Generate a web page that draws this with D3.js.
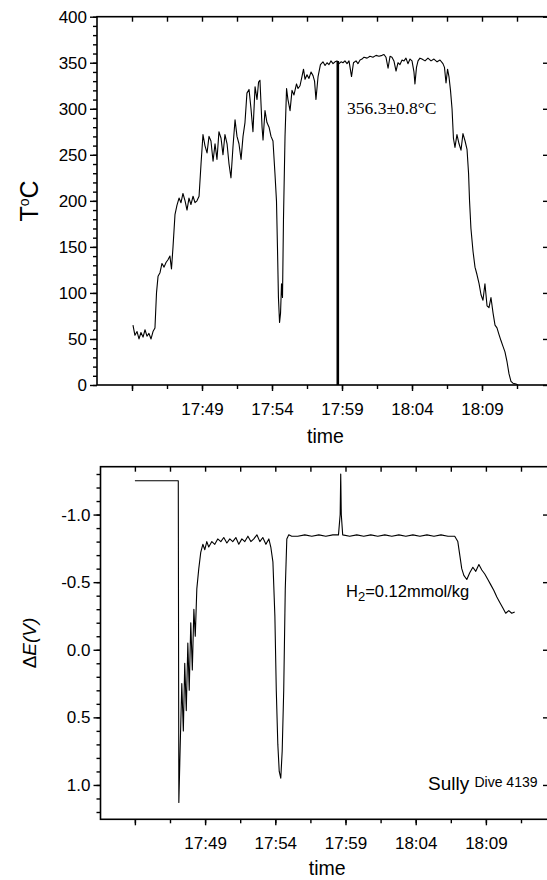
<!DOCTYPE html>
<html>
<head>
<meta charset="utf-8">
<script src="https://cdn.jsdelivr.net/npm/d3@7"></script>
<style>
  body { margin: 0; background: #fff; }
  svg { display: block; }
  text { font-family: "Liberation Sans", Arial, sans-serif; fill: #000; }
</style>
</head>
<body>
<div id="chart"></div>
<script>
// times are minutes after 17:40
const tempTime = [4.07, 4.21, 4.36, 4.5, 4.64, 4.79, 4.93, 5.07, 5.21, 5.36, 5.5, 5.64, 5.75, 5.86, 6.0, 6.14, 6.29, 6.43, 6.57, 6.71, 6.82, 6.93,
  7.07, 7.21, 7.36, 7.5, 7.64, 7.79, 7.93, 8.07, 8.21, 8.36, 8.5, 8.64, 8.79, 8.93, 9.07, 9.21, 9.36, 9.5, 9.64, 9.79, 9.93,
  10.07, 10.21, 10.36, 10.5, 10.64, 10.79, 10.93, 11.07, 11.21, 11.36, 11.5, 11.64, 11.79, 11.93, 12.07, 12.21, 12.36, 12.5,
  12.64, 12.79, 12.93, 13.04, 13.14, 13.29, 13.36, 13.5, 13.64, 13.79, 13.93, 14.07, 14.21, 14.32, 14.39, 14.46, 14.54, 14.61,
  14.68, 14.75, 14.82, 14.93, 15.04, 15.14, 15.29, 15.43, 15.57, 15.75, 15.86, 16.0, 16.14, 16.25, 16.36, 16.5, 16.64, 16.79,
  16.93, 17.04, 17.14, 17.29, 17.46, 17.64, 17.79, 17.93, 18.07, 18.21, 18.36, 18.5, 18.64, 18.79, 18.93, 19.07, 19.21, 19.36,
  19.5, 19.68, 19.82, 20.0, 20.14, 20.29, 20.43, 20.57, 20.79, 21.0, 21.21, 21.43, 21.64, 21.86, 22.0, 22.14, 22.29, 22.43,
  22.57, 22.71, 22.86, 23.0, 23.14, 23.29, 23.43, 23.57, 23.71, 23.86, 24.0, 24.14, 24.21, 24.32, 24.43, 24.57, 24.71, 24.93,
  25.14, 25.36, 25.57, 25.79, 26.0, 26.21, 26.32, 26.43, 26.54, 26.64, 26.75, 26.86, 26.96, 27.07, 27.21, 27.36, 27.5, 27.64,
  27.79, 27.93, 28.04, 28.11, 28.21, 28.36, 28.5, 28.64, 28.79, 28.93, 29.07, 29.21, 29.36, 29.5, 29.64, 29.79, 29.93, 30.07,
  30.21, 30.36, 30.5, 30.64, 30.79, 30.93, 31.07, 31.21, 31.43, 31.57];
const tempValue = [65, 54, 58, 50, 57, 52, 60, 53, 56, 50, 58, 62, 100, 118, 122, 132, 128, 133, 136, 140, 126, 150,
  185, 195, 203, 198, 208, 200, 190, 203, 196, 205, 198, 200, 205, 240, 272, 260, 252, 270, 265, 243, 262,
  245, 275, 268, 250, 272, 262, 240, 225, 258, 288, 270, 262, 245, 270, 285, 317, 321, 300,
  275, 324, 310, 329, 331, 280, 266, 298, 285, 280, 270, 265, 230, 200, 150, 95, 68, 78,
  110, 95, 180, 270, 322, 310, 298, 320, 315, 327, 322, 325, 335, 343, 332, 337, 333, 340,
  336, 330, 310, 335, 348, 351, 347, 350, 348, 352, 349, 351, 352, 349, 351, 350, 352, 349,
  352, 335, 350, 352, 349, 353, 354, 356, 355, 357, 356, 358, 357, 358, 359, 356, 344, 357,
  356, 352, 341, 350, 348, 353, 352, 355, 349, 354, 352, 340, 327, 345, 352, 355, 354, 352,
  355, 352, 354, 351, 353, 349, 345, 328, 343, 335, 320, 300, 268, 258, 272, 262, 255, 273,
  265, 256, 230, 200, 170, 145, 128, 120, 110, 98, 92, 110, 86, 84, 95, 78, 65, 62,
  55, 48, 42, 36, 25, 12, 4, 2, 1, 0];

const dETime = [4.0, 7.09, 7.13, 7.23, 7.34, 7.45, 7.55, 7.66, 7.77, 7.87, 7.98, 8.09, 8.2, 8.3, 8.41, 8.55, 8.69, 8.84, 8.98,
  9.12, 9.26, 9.48, 9.69, 9.9, 10.12, 10.33, 10.55, 10.76, 10.97, 11.19, 11.4, 11.62, 11.83, 12.05, 12.26, 12.47, 12.69,
  12.9, 13.11, 13.33, 13.54, 13.68, 13.83, 13.97, 14.07, 14.18, 14.28, 14.39, 14.49, 14.6, 14.71, 14.82, 14.96, 15.17,
  15.6, 16.1, 16.6, 17.1, 17.6, 18.1, 18.5, 18.62, 18.66, 18.7, 18.8, 19.3, 19.8, 20.3, 20.8, 21.3, 21.8, 22.3, 22.8,
  23.3, 23.8, 24.3, 24.8, 25.3, 25.8, 26.3, 26.78, 27.0, 27.14, 27.28, 27.43, 27.64, 27.85, 28.07, 28.28, 28.5, 28.71,
  28.92, 29.14, 29.35, 29.56, 29.78, 29.99, 30.2, 30.41, 30.63, 30.84, 31.05];
const dEValue = [-1.25, -1.25, 1.13, 0.7, 0.25, 0.6, 0.1, 0.45, -0.05, 0.3, -0.2, 0.15, -0.3, -0.1, -0.45, -0.6, -0.72, -0.78, -0.74,
  -0.8, -0.76, -0.8, -0.78, -0.82, -0.8, -0.83, -0.79, -0.82, -0.8, -0.83, -0.78, -0.82, -0.8, -0.84, -0.8, -0.82, -0.85,
  -0.8, -0.83, -0.78, -0.82, -0.76, -0.65, -0.25, 0.3, 0.7, 0.9, 0.95, 0.75, 0.3, -0.45, -0.82, -0.85, -0.84,
  -0.84, -0.85, -0.84, -0.85, -0.84, -0.85, -0.85, -1.0, -1.3, -1.0, -0.85, -0.84, -0.85, -0.84, -0.85, -0.84, -0.85, -0.84, -0.85,
  -0.84, -0.85, -0.84, -0.85, -0.84, -0.85, -0.84, -0.84, -0.8, -0.7, -0.6, -0.55, -0.52, -0.57, -0.61, -0.58, -0.63, -0.59,
  -0.56, -0.52, -0.48, -0.44, -0.39, -0.35, -0.31, -0.27, -0.29, -0.27, -0.28];

const timeTicks = [4, 6.5, 9, 11.5, 14, 16.5, 19, 21.5, 24, 26.5, 29, 31.5];
const timeMajor = [4, 9, 14, 19, 24, 29];
const timeLabels = ['', '17:49', '17:54', '17:59', '18:04', '18:09'];
const tempTicks = [0, 50, 100, 150, 200, 250, 300, 350, 400];
const dETicks = [-1.0, -0.5, 0.0, 0.5, 1.0];
const dELabels = ['-1.0', '-0.5', '0.0', '0.5', '1.0'];

const W = 547, H = 880;
const svg = d3.select('#chart').append('svg')
    .attr('width', W)
    .attr('height', H);

const t0 = new Date(2000, 0, 1, 17, 40);
const toDate = m => new Date(+t0 + m * 60000);

function drawPanel(opt) {
    const g = svg.append('g');
    const { left, right, top, bottom } = opt;

    const x = d3.scaleTime()
        .domain([toDate(opt.tMin), toDate(opt.tMax)])
        .range([left, right]);
    const y = d3.scaleLinear()
        .domain(opt.yDomain)
        .range([bottom, top]);

    const labelFor = d => {
        const i = timeMajor.findIndex(m => +toDate(m) === +d);
        return i >= 0 ? timeLabels[i] : '';
    };

    // bottom axis: minor then major ticks (outward)
    g.append('g')
        .attr('transform', `translate(0,${bottom})`)
        .call(d3.axisBottom(x).tickValues(timeTicks.map(toDate)).tickSize(4).tickFormat(''));
    g.append('g')
        .attr('class', 'xlab')
        .attr('transform', `translate(0,${bottom})`)
        .call(d3.axisBottom(x).tickValues(timeMajor.map(toDate)).tickSize(6).tickPadding(12).tickFormat(labelFor));

    // top axis: ticks inward
    g.append('g')
        .attr('transform', `translate(0,${top})`)
        .call(d3.axisBottom(x).tickValues(timeTicks.map(toDate)).tickSize(5).tickFormat(''));

    // left axis: minor + major ticks outward
    g.append('g')
        .attr('transform', `translate(${left},0)`)
        .call(d3.axisLeft(y).tickValues(opt.minorTicks).tickSize(4).tickFormat(''));
    g.append('g')
        .attr('class', 'ylab')
        .attr('transform', `translate(${left},0)`)
        .call(d3.axisLeft(y).tickValues(opt.majorTicks).tickSize(7).tickPadding(3)
            .tickFormat((d, i) => opt.majorLabels[i]));

    // right axis: ticks inward
    g.append('g')
        .attr('transform', `translate(${right},0)`)
        .call(d3.axisLeft(y).tickValues(opt.majorTicks).tickSize(5).tickFormat(''));

    g.selectAll('.domain').remove();
    g.selectAll('.tick line').attr('stroke', '#000').attr('stroke-width', 1.4);
    g.selectAll('.xlab text').style('font-size', '17px');
    g.selectAll('.ylab text').style('font-size', '17px');

    // frame
    g.append('rect')
        .attr('x', left).attr('y', top)
        .attr('width', right - left).attr('height', bottom - top)
        .attr('fill', 'none')
        .attr('stroke', '#000')
        .attr('stroke-width', 1.6);

    // data line
    const line = d3.line()
        .x((d, i) => x(toDate(opt.times[i])))
        .y(d => y(d));
    g.append('path')
        .datum(opt.values)
        .attr('d', line)
        .attr('fill', 'none')
        .attr('stroke', '#000')
        .attr('stroke-width', 1.1)
        .attr('stroke-linejoin', 'round');

    // x axis title
    g.append('text')
        .attr('x', (left + right) / 2 + 3)
        .attr('y', opt.timeY)
        .attr('text-anchor', 'middle')
        .style('font-size', '19.5px')
        .text('time');

    return { x, y, g };
}

// Upper panel: temperature
const upper = drawPanel({
    left: 97, right: 548, top: 16.7, bottom: 385,
    tMin: 1.5, tMax: 1.5 + 451 / 14,
    yDomain: [0, 400],
    minorTicks: d3.range(0, 401, 10),
    majorTicks: tempTicks,
    majorLabels: tempTicks.map(String),
    times: tempTime, values: tempValue,
    timeY: 443
});

// measurement marker
upper.g.append('line')
    .attr('x1', upper.x(toDate(18.7))).attr('x2', upper.x(toDate(18.7)))
    .attr('y1', upper.y(0)).attr('y2', upper.y(352))
    .attr('stroke', '#000')
    .attr('stroke-width', 2.6);

upper.g.append('text')
    .attr('x', 347)
    .attr('y', 114)
    .style('font-family', '"Liberation Serif", "Times New Roman", serif')
    .style('font-size', '17.5px')
    .text('356.3±0.8°C');

const tLabel = upper.g.append('text')
    .attr('transform', 'translate(38,201) rotate(-90)')
    .attr('text-anchor', 'middle')
    .style('font-size', '25px');
tLabel.append('tspan').text('T');
tLabel.append('tspan').attr('dy', -9).style('font-size', '14px').text('o');
tLabel.append('tspan').attr('dy', 9).text('C');

// Lower panel: electrode potential
const lower = drawPanel({
    left: 100.5, right: 548, top: 466.7, bottom: 819.3,
    tMin: 1.55, tMax: 1.55 + 447.5 / 14.04,
    yDomain: [1.254, -1.354],
    minorTicks: d3.range(-13, 13).map(d => d / 10),
    majorTicks: dETicks,
    majorLabels: dELabels,
    times: dETime, values: dEValue,
    timeY: 875
});

const eLabel = lower.g.append('text')
    .attr('transform', 'translate(36,643) rotate(-90)')
    .attr('text-anchor', 'middle')
    .style('font-size', '19px');
eLabel.append('tspan').text('Δ');
eLabel.append('tspan').style('font-style', 'italic').text('E(V)');

const h2 = lower.g.append('text')
    .attr('x', 346)
    .attr('y', 597)
    .style('font-size', '16.5px');
h2.append('tspan').text('H');
h2.append('tspan').attr('dy', 4).style('font-size', '13px').text('2');
h2.append('tspan').attr('dy', -4).text('=0.12mmol/kg');

const sully = lower.g.append('text')
    .attr('x', 428)
    .attr('y', 790);
sully.append('tspan').style('font-size', '19px').text('Sully ');
sully.append('tspan').attr('dy', -3).style('font-size', '14px').text('Dive 4139');
</script>
</body>
</html>
